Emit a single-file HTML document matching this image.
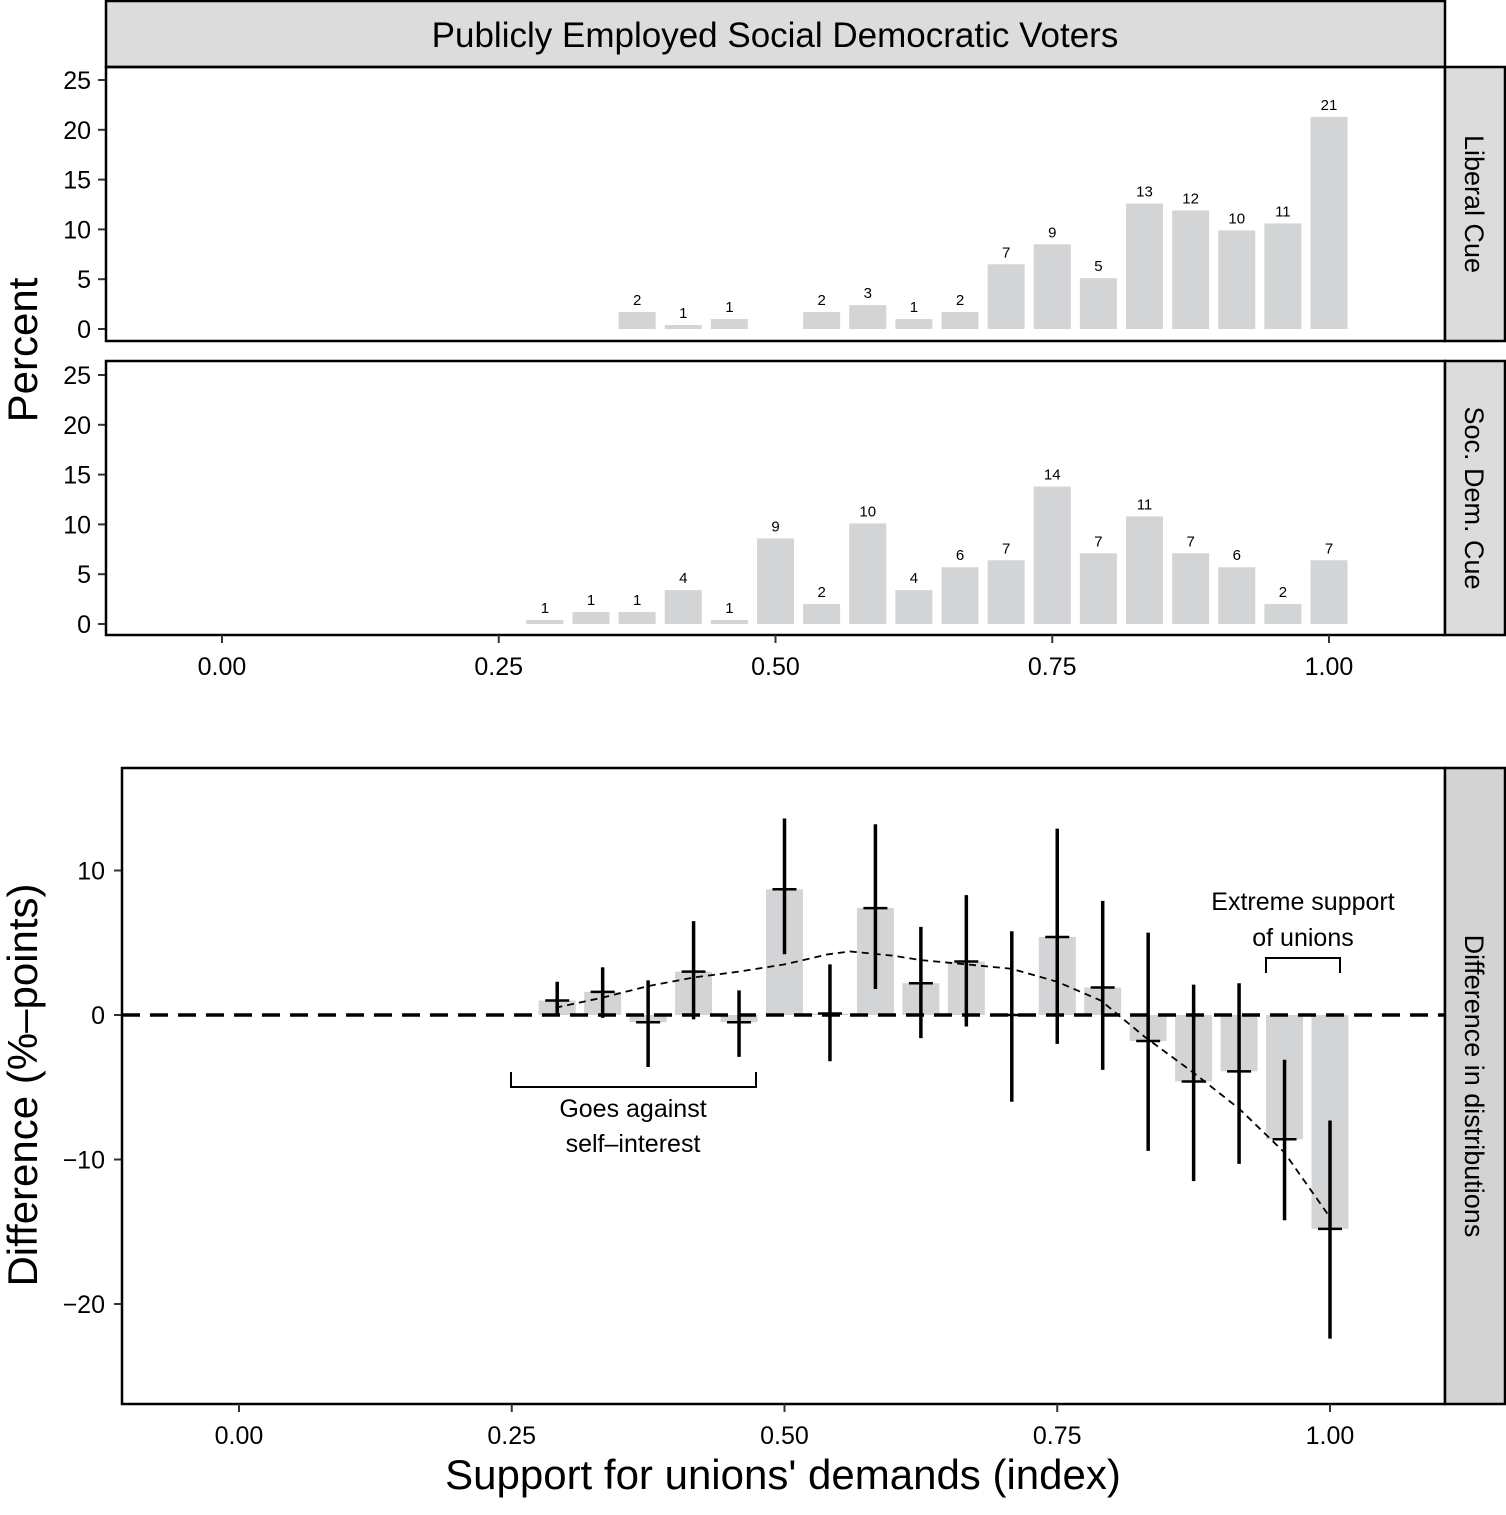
<!DOCTYPE html>
<html><head><meta charset="utf-8"><style>
body{margin:0;background:#fff}
svg text{font-family:"Liberation Sans",Arial,sans-serif;fill:#000}
</style></head><body>
<svg id="c" width="1506" height="1510" xmlns="http://www.w3.org/2000/svg">
<rect x="0" y="0" width="1506" height="1510" fill="#fff"/>
<g id="topgrp"></g>
<g id="botgrp"></g>
</svg>
<script>
const positions=[7,8,9,10,11,12,13,14,15,16,17,18,19,20,21,22,23,24];
const liberalVals=[null,null,1.7,0.4,1.0,null,1.7,2.4,1.0,1.7,6.5,8.5,5.1,12.6,11.9,9.9,10.6,21.3];
const liberalLabels=[null,null,"2","1","1",null,"2","3","1","2","7","9","5","13","12","10","11","21"];
const socdemVals=[0.4,1.2,1.2,3.4,0.4,8.6,2.0,10.1,3.4,5.7,6.4,13.8,7.1,10.8,7.1,5.7,2.0,6.4];
const socdemLabels=["1","1","1","4","1","9","2","10","4","6","7","14","7","11","7","6","2","7"];
const diffVals=[1.0,1.6,-0.5,3.0,-0.5,8.7,0.1,7.4,2.2,3.7,0,5.4,1.9,-1.8,-4.6,-3.9,-8.6,-14.8];
const diffLo=[-0.1,-0.2,-3.6,-0.3,-2.9,4.2,-3.2,1.8,-1.6,-0.8,-6.0,-2.0,-3.8,-9.4,-11.5,-10.3,-14.2,-22.4];
const diffHi=[2.3,3.3,2.4,6.5,1.7,13.6,3.5,13.2,6.1,8.3,5.8,12.9,7.9,5.7,2.1,2.2,-3.1,-7.3];
const smoothX=[0.29,0.333,0.375,0.417,0.458,0.5,0.54,0.56,0.6,0.625,0.667,0.708,0.75,0.79,0.83,0.875,0.917,0.958,1.0];
const smoothY=[0.5,1.2,2.0,2.6,3.0,3.5,4.2,4.4,4.1,3.8,3.5,3.2,2.3,1.0,-1.5,-4.0,-6.5,-9.5,-14.0];
const xTicks=[0,0.25,0.5,0.75,1.0];
const xTickLabels=["0.00","0.25","0.50","0.75","1.00"];
const pctTicks=[0,5,10,15,20,25];
const diffTicks=[10,0,-10,-20];
const diffTickLabels=["10","0","\u221210","\u221220"];

const NS="http://www.w3.org/2000/svg";
function el(parent,tag,attrs,text){const e=document.createElementNS(NS,tag);for(const k in attrs)e.setAttribute(k,attrs[k]);if(text!==undefined)e.textContent=text;parent.appendChild(e);return e;}
const topG=document.getElementById('topgrp'),botG=document.getElementById('botgrp');
const xT=v=>222+v*1107;
const xB=v=>239+v*1091;
const GRAY="#d3d4d5";
const TICKF=25;

let t=el(topG,'rect',{x:106,y:1,width:1339,height:66,fill:"#dcdcdc",stroke:"#000","stroke-width":2.5});

t=el(topG,'text',{x:775,y:47,"font-size":35,"text-anchor":"middle"},"Publicly Employed Social Democratic Voters");


function panel(y0,zero,vals,labels,strip,name){
  const yS=v=>zero-v*9.96;
  const g=el(topG,'g',{});
  
  pctTicks.forEach(v=>{
    el(g,'line',{x1:98,x2:106,y1:yS(v),y2:yS(v),stroke:"#333","stroke-width":2});
    const tx=el(g,'text',{x:91,y:yS(v)+9,"font-size":TICKF,"text-anchor":"end"},String(v));
    
  });
  positions.forEach((p,i)=>{
    if(vals[i]==null)return;
    const cx=xT(p/24);
    const r=el(g,'rect',{x:cx-18.5,y:yS(vals[i]),width:37,height:vals[i]*9.96,fill:GRAY});
    
    const l=el(g,'text',{x:cx,y:yS(vals[i])-7,"font-size":15,"text-anchor":"middle"},labels[i]);
    
  });
  el(g,'rect',{x:106,y:y0,width:1339,height:274,fill:"none",stroke:"#000","stroke-width":2.5});
  const s=el(g,'rect',{x:1445,y:y0,width:60,height:274,fill:"#dcdcdc",stroke:"#000","stroke-width":2.5});
  
  const st=el(g,'text',{x:0,y:0,"font-size":27,"text-anchor":"middle",transform:`translate(1465,${y0+137}) rotate(90)`},strip);
  
}
panel(67,329,liberalVals,liberalLabels,"Liberal Cue","liberal-cue");
panel(361,624,socdemVals,socdemLabels,"Soc. Dem. Cue","soc-dem-cue");
xTicks.forEach((v,i)=>{
  el(topG,'line',{x1:xT(v),x2:xT(v),y1:635,y2:643,stroke:"#333","stroke-width":2});
  const tx=el(topG,'text',{x:xT(v),y:675,"font-size":TICKF,"text-anchor":"middle"},xTickLabels[i]);
  
});
t=el(topG,'text',{x:0,y:0,"font-size":42,"text-anchor":"middle",transform:"translate(37,350) rotate(-90)"},"Percent");


const yD=v=>1015-v*14.45;
diffTicks.forEach((v,i)=>{
  el(botG,'line',{x1:114,x2:122,y1:yD(v),y2:yD(v),stroke:"#333","stroke-width":2});
  const tx=el(botG,'text',{x:105,y:yD(v)+9,"font-size":TICKF,"text-anchor":"end"},diffTickLabels[i]);
  
});
positions.forEach((p,i)=>{
  const cx=xB(p/24),v=diffVals[i];
  const r=el(botG,'rect',{x:cx-18.5,y:Math.min(yD(v),yD(0)),width:37,height:Math.max(Math.abs(v)*14.45,1),fill:GRAY});
  
});
el(botG,'line',{x1:122,x2:1445,y1:yD(0),y2:yD(0),stroke:"#000","stroke-width":3.5,"stroke-dasharray":"18,10"});
let d="";
smoothX.forEach((x,i)=>{d+=(i?"L":"M")+xB(x)+","+yD(smoothY[i]);});
t=el(botG,'path',{d:d,fill:"none",stroke:"#000","stroke-width":1.8,"stroke-dasharray":"7,5"});

positions.forEach((p,i)=>{
  const cx=xB(p/24);
  const e=el(botG,'line',{x1:cx,x2:cx,y1:yD(diffHi[i]),y2:yD(diffLo[i]),stroke:"#000","stroke-width":3.5});
  
  const m=el(botG,'line',{x1:cx-12,x2:cx+12,y1:yD(diffVals[i]),y2:yD(diffVals[i]),stroke:"#000","stroke-width":2.5});
  
});
t=el(botG,'path',{d:"M511,1072V1087H756V1072",fill:"none",stroke:"#000","stroke-width":2});

t=el(botG,'text',{x:633,y:1117,"font-size":25,"text-anchor":"middle"},"Goes against");

t=el(botG,'text',{x:633,y:1152,"font-size":25,"text-anchor":"middle"},"self\u2013interest");

t=el(botG,'path',{d:"M1266,973V958H1340V973",fill:"none",stroke:"#000","stroke-width":2});

t=el(botG,'text',{x:1303,y:910,"font-size":25,"text-anchor":"middle"},"Extreme support");

t=el(botG,'text',{x:1303,y:946,"font-size":25,"text-anchor":"middle"},"of unions");


el(botG,'rect',{x:122,y:768,width:1323,height:636,fill:"none",stroke:"#000","stroke-width":2.5});
t=el(botG,'rect',{x:1445,y:768,width:60,height:636,fill:"#d3d3d3",stroke:"#000","stroke-width":2.5});

t=el(botG,'text',{x:0,y:0,"font-size":27,"text-anchor":"middle",transform:"translate(1465,1086) rotate(90)"},"Difference in distributions");

xTicks.forEach((v,i)=>{
  el(botG,'line',{x1:xB(v),x2:xB(v),y1:1404,y2:1412,stroke:"#333","stroke-width":2});
  const tx=el(botG,'text',{x:xB(v),y:1444,"font-size":TICKF,"text-anchor":"middle"},xTickLabels[i]);
  
});
t=el(botG,'text',{x:783,y:1489,"font-size":42,"text-anchor":"middle"},"Support for unions' demands (index)");

t=el(botG,'text',{x:0,y:0,"font-size":42,"text-anchor":"middle",transform:"translate(37,1085) rotate(-90)"},"Difference (%\u2013points)");

</script>
</body></html>
